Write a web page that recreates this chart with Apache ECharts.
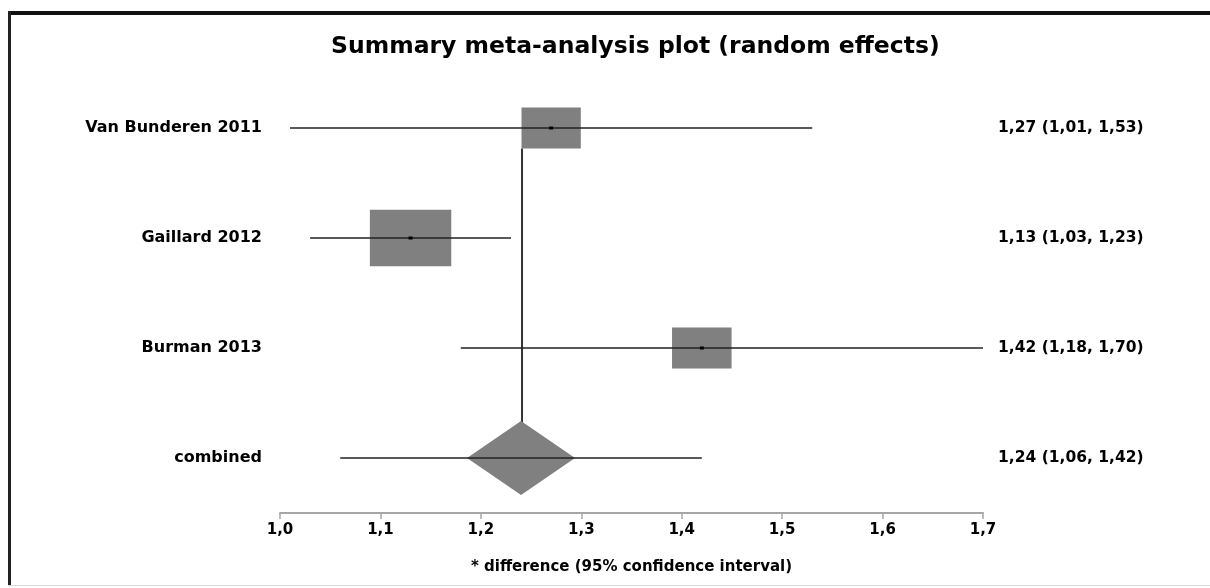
<!DOCTYPE html>
<html>
<head>
<meta charset="utf-8">
<script src="https://cdn.jsdelivr.net/npm/echarts@6/dist/echarts.min.js"></script>
<style>
html,body{margin:0;padding:0;background:#fff;}
#chart{width:1210px;height:588px;}
</style>
</head>
<body>
<div id="chart"></div>
<script>
// ---- data ----
var studies   = ['Van Bunderen 2011', 'Gaillard 2012', 'Burman 2013', 'combined'];
var estimates = [1.27, 1.13, 1.42, 1.24];
var lower     = [1.01, 1.03, 1.18, 1.06];
var upper     = [1.53, 1.23, 1.70, 1.42];
var weights   = [25.7, 48.4, 25.9];   // study weights (%)
var xTickLabels = ['1,0', '1,1', '1,2', '1,3', '1,4', '1,5', '1,6', '1,7'];
var titleText = 'Summary meta-analysis plot (random effects)';
var axisTitle = '* difference (95% confidence interval)';

function fmt2(v){ return v.toFixed(2).replace('.', ','); }
var rightLabels = studies.map(function(s, i){
  return fmt2(estimates[i]) + ' (' + fmt2(lower[i]) + ', ' + fmt2(upper[i]) + ')';
});

var FONT = '"DejaVu Sans", Verdana, sans-serif';
var combIdx = studies.length - 1;
var BOX_W = 11.7, BOX_H = 8.1;

var ciData = studies.map(function(s, i){ return [lower[i], upper[i], i]; });
var boxData = weights.map(function(w, i){ return [estimates[i], i, w]; });
var diamondData = [[estimates[combIdx], combIdx]];
var vlineData = [[estimates[combIdx], 0, combIdx, weights[0]]];

var chart = echarts.init(document.getElementById('chart'));
chart.setOption({
  backgroundColor: '#ffffff',
  animation: false,
  title: {
    text: titleText, left: 326, top: 30,
    textStyle: { color: '#000', fontFamily: FONT, fontWeight: 'bold', fontSize: 23.5 }
  },
  graphic: [
    { type: 'rect', shape: { x: 8, y: 11, width: 1202, height: 4 }, style: { fill: '#111' }, silent: true },
    { type: 'rect', shape: { x: 8, y: 11, width: 3, height: 575 }, style: { fill: '#222' }, silent: true },
    { type: 'rect', shape: { x: 8, y: 585, width: 1202, height: 1 }, style: { fill: '#d8d8d8' }, silent: true }
  ],
  grid: { left: 280, right: 227, top: 73, bottom: 75, containLabel: false },
  xAxis: {
    type: 'value', min: 1.0, max: 1.7, interval: 0.1,
    splitLine: { show: false },
    axisLine: { show: true, lineStyle: { color: '#a6a6a6', width: 2 } },
    axisTick: { show: true, length: 6, lineStyle: { color: '#a6a6a6', width: 1.5 } },
    axisLabel: {
      margin: 10, color: '#000', fontFamily: FONT, fontWeight: 'bold', fontSize: 15,
      formatter: function(v){ return xTickLabels[Math.round((v - 1.0) * 10)]; }
    },
    name: axisTitle, nameLocation: 'middle', nameGap: 47,
    nameTextStyle: { color: '#000', fontFamily: FONT, fontWeight: 'bold', fontSize: 15 }
  },
  yAxis: [
    {
      type: 'category', data: studies, inverse: true,
      axisLine: { show: false }, axisTick: { show: false }, splitLine: { show: false },
      axisLabel: { margin: 18, color: '#000', fontFamily: FONT, fontWeight: 'bold', fontSize: 16 }
    },
    {
      type: 'category', data: rightLabels, inverse: true, position: 'right',
      axisLine: { show: false }, axisTick: { show: false }, splitLine: { show: false },
      axisLabel: { margin: 15, color: '#000', fontFamily: FONT, fontWeight: 'bold', fontSize: 15.5 }
    }
  ],
  series: [
    {
      name: 'overall line', type: 'custom', z: 1, data: vlineData,
      renderItem: function(params, api){
        var p0 = api.coord([api.value(0), api.value(1)]);
        var p1 = api.coord([api.value(0), api.value(2)]);
        var y0 = p0[1] + BOX_H * Math.sqrt(api.value(3)) / 2;
        return { type: 'line', shape: { x1: p0[0] + 1, y1: y0, x2: p1[0] + 1, y2: p1[1] },
                 style: { stroke: '#333', lineWidth: 2 } };
      }
    },
    {
      name: 'weights', type: 'custom', z: 2, data: boxData,
      renderItem: function(params, api){
        var c = api.coord([api.value(0), api.value(1)]);
        var s = Math.sqrt(api.value(2));
        var w = BOX_W * s, h = BOX_H * s;
        return { type: 'rect', shape: { x: c[0] - w / 2, y: c[1] - h / 2, width: w, height: h },
                 style: { fill: '#808080' } };
      }
    },
    {
      name: 'combined', type: 'custom', z: 2, data: diamondData,
      renderItem: function(params, api){
        var c = api.coord([api.value(0), api.value(1)]);
        var hw = 54, hh = 37;
        return { type: 'polygon',
                 shape: { points: [[c[0] - hw, c[1]], [c[0], c[1] - hh], [c[0] + hw, c[1]], [c[0], c[1] + hh]] },
                 style: { fill: '#808080' } };
      }
    },
    {
      name: 'CI', type: 'custom', z: 3, data: ciData,
      renderItem: function(params, api){
        var a = api.coord([api.value(0), api.value(2)]);
        var b = api.coord([api.value(1), api.value(2)]);
        return { type: 'line', shape: { x1: a[0], y1: a[1], x2: b[0], y2: b[1] },
                 style: { stroke: '#222', lineWidth: 1.5 } };
      }
    },
    {
      name: 'points', type: 'custom', z: 4, data: boxData,
      renderItem: function(params, api){
        var c = api.coord([api.value(0), api.value(1)]);
        return { type: 'rect', shape: { x: c[0] - 2, y: c[1] - 1.5, width: 4, height: 3 },
                 style: { fill: '#000' } };
      }
    }
  ]
});
</script>
</body>
</html>
